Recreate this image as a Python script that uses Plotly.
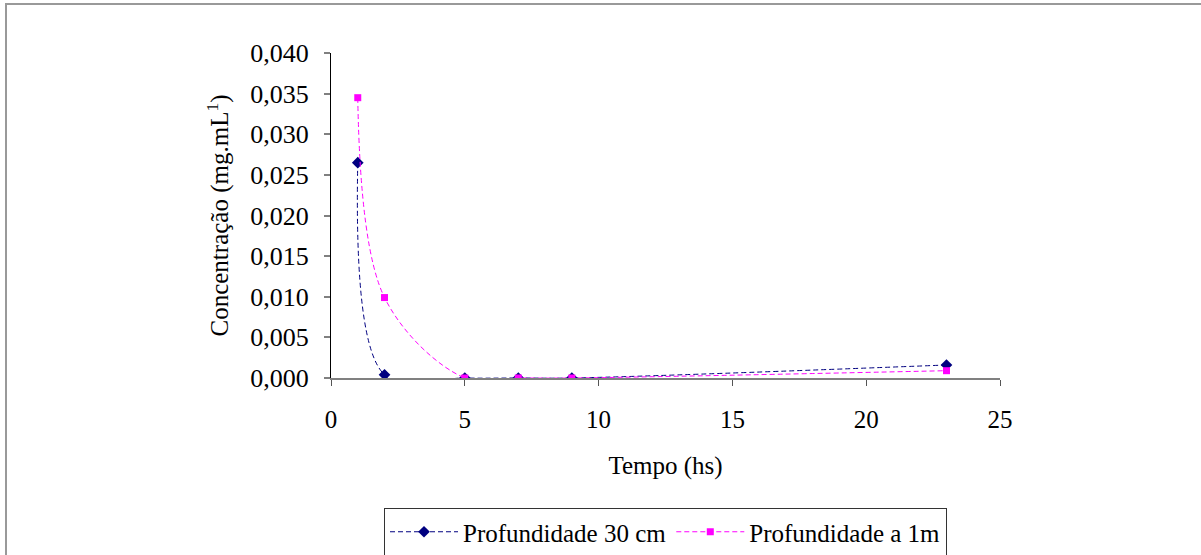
import plotly.graph_objects as go

# Sampling times (hours)
tempo = [1, 2, 5, 7, 9, 23]

# Concentration (mg.mL-1) at each depth
prof_30cm = [0.0265, 0.0004, 0.0, 0.0, 0.0, 0.0016]
prof_1m = [0.0345, 0.0099, 0.0, 0.0, 0.0, 0.0009]

x_ticks = [0, 5, 10, 15, 20, 25]
y_ticks = [0.000, 0.005, 0.010, 0.015, 0.020, 0.025, 0.030, 0.035, 0.040]

FONT = "'Liberation Serif', 'Times New Roman', serif"

fig = go.Figure()
fig.add_trace(go.Scatter(
    x=tempo, y=prof_30cm, name="Profundidade 30 cm",
    mode="lines+markers",
    line=dict(color="#000080", width=1, dash="5px,3px", shape="spline", smoothing=1),
    marker=dict(symbol="diamond", size=9, color="#000080"),
))
fig.add_trace(go.Scatter(
    x=tempo, y=prof_1m, name="Profundidade a 1m",
    mode="lines+markers",
    line=dict(color="#FF00FF", width=1, dash="5px,3px", shape="spline", smoothing=1),
    marker=dict(symbol="square", size=7, color="#FF00FF"),
))

# Outer chart-area frame
fig.add_shape(type="rect", xref="paper", yref="paper",
              x0=-0.4858, x1=1.6, y0=1.1508, y1=-0.8,
              line=dict(color="#999999", width=2), fillcolor="rgba(0,0,0,0)",
              layer="below")

fig.update_layout(
    width=1201, height=555,
    margin=dict(l=331, r=201, t=53, b=177, autoexpand=False),
    paper_bgcolor="white", plot_bgcolor="white",
    font=dict(family=FONT, size=25, color="black"),
    separators=", ",
    showlegend=True,
    legend=dict(
        orientation="h", x=0.5, xanchor="center", y=-0.40, yanchor="top",
        bordercolor="#333333", borderwidth=1, bgcolor="white",
        font=dict(family=FONT, size=25, color="black"),
        itemwidth=68, tracegroupgap=0,
    ),
    xaxis=dict(
        range=[0, 25], tickvals=x_ticks, ticktext=[str(v) for v in x_ticks],
        showgrid=False, zeroline=False,
        showline=True, linecolor="#808080", linewidth=2,
        ticks="outside", ticklen=6, tickcolor="#555555", tickwidth=1,
        ticklabelstandoff=12,
        tickfont=dict(family=FONT, size=25),
        title=dict(text="Tempo (hs)", font=dict(family=FONT, size=25), standoff=24),
    ),
    yaxis=dict(
        range=[0, 0.04], tickvals=y_ticks, tickformat=".3f",
        showgrid=False, zeroline=False,
        showline=True, linecolor="black", linewidth=1,
        ticks="outside", ticklen=6, tickcolor="#808080", tickwidth=2,
        ticklabelstandoff=10,
        tickfont=dict(family=FONT, size=26),
        title=dict(text="Concentração (mg.mL<sup>1</sup>)",
                   font=dict(family=FONT, size=25), standoff=14),
    ),
)

fig.write_html("out.html")
